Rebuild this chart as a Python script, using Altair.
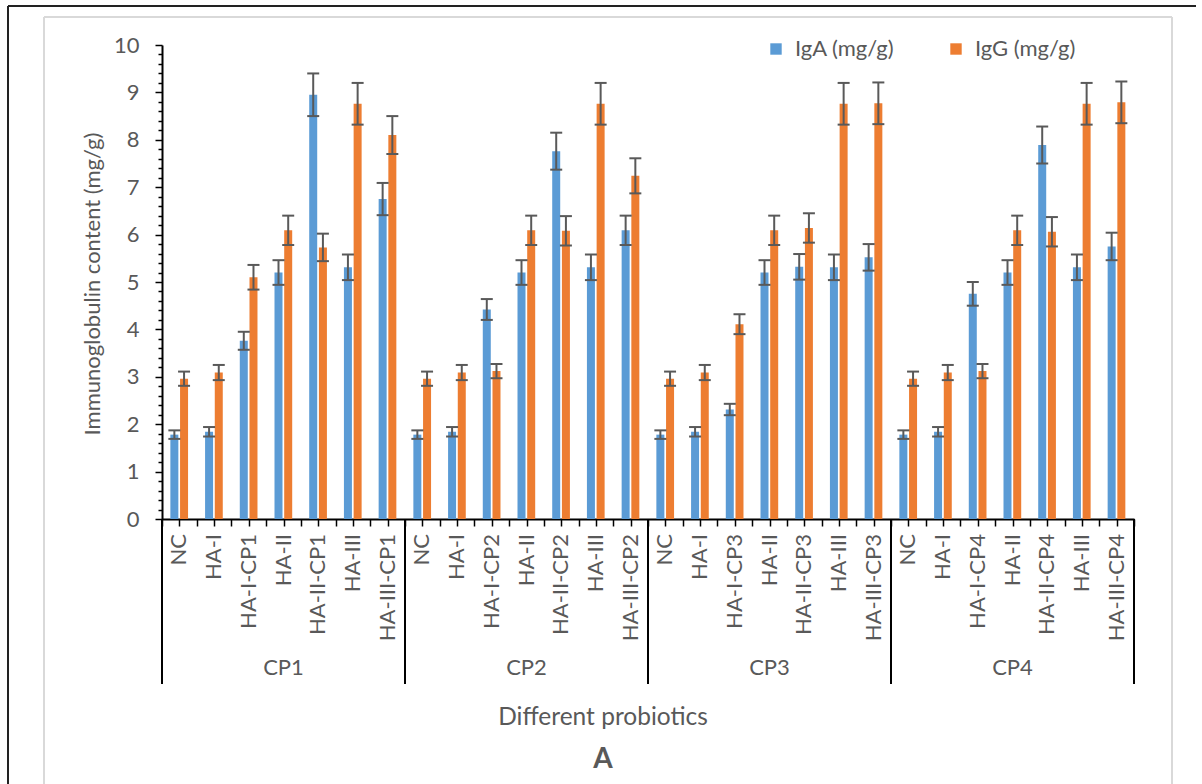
import altair as alt
import pandas as pd

groups = ["CP1", "CP2", "CP3", "CP4"]
treatments = ["NC", "HA-I", "HA-I-{g}", "HA-II", "HA-II-{g}", "HA-III", "HA-III-{g}"]

iga_cp1 = [1.78, 1.84, 3.76, 5.20, 8.95, 5.31, 6.75]
iga_cp2 = [1.78, 1.84, 4.42, 5.20, 7.76, 5.31, 6.09]
iga_cp3 = [1.78, 1.84, 2.31, 5.20, 5.32, 5.31, 5.52]
iga_cp4 = [1.78, 1.84, 4.75, 5.20, 7.89, 5.31, 5.75]

iga_err_cp1 = [0.09, 0.10, 0.19, 0.26, 0.45, 0.27, 0.34]
iga_err_cp2 = [0.09, 0.10, 0.22, 0.26, 0.39, 0.27, 0.31]
iga_err_cp3 = [0.09, 0.10, 0.12, 0.26, 0.27, 0.27, 0.28]
iga_err_cp4 = [0.09, 0.10, 0.25, 0.26, 0.39, 0.27, 0.29]

igg_cp1 = [2.96, 3.09, 5.10, 6.09, 5.73, 8.76, 8.10]
igg_cp2 = [2.96, 3.09, 3.12, 6.09, 6.08, 8.76, 7.24]
igg_cp3 = [2.96, 3.09, 4.11, 6.09, 6.14, 8.76, 8.77]
igg_cp4 = [2.96, 3.09, 3.12, 6.09, 6.06, 8.76, 8.79]

igg_err_cp1 = [0.15, 0.16, 0.26, 0.31, 0.29, 0.44, 0.40]
igg_err_cp2 = [0.15, 0.16, 0.15, 0.31, 0.31, 0.44, 0.37]
igg_err_cp3 = [0.15, 0.16, 0.21, 0.31, 0.31, 0.44, 0.44]
igg_err_cp4 = [0.15, 0.16, 0.15, 0.31, 0.31, 0.44, 0.44]

series_names = ["IgA (mg/g)", "IgG (mg/g)"]
series_colors = ["#5B9BD5", "#ED7D31"]

iga = [iga_cp1, iga_cp2, iga_cp3, iga_cp4]
iga_err = [iga_err_cp1, iga_err_cp2, iga_err_cp3, iga_err_cp4]
igg = [igg_cp1, igg_cp2, igg_cp3, igg_cp4]
igg_err = [igg_err_cp1, igg_err_cp2, igg_err_cp3, igg_err_cp4]

rows = []
cats = []
n_t = len(treatments)
for gi, g in enumerate(groups):
    for ti, t in enumerate(treatments):
        idx = gi * n_t + ti
        label = t.format(g=g)
        cats.append({"xc": idx + 0.5, "label": label})
        for s, vals, errs in ((series_names[0], iga, iga_err), (series_names[1], igg, igg_err)):
            v = vals[gi][ti]
            e = errs[gi][ti]
            rows.append({"xc": idx + 0.5, "label": label, "group": g,
                         "series": s, "value": v, "lo": v - e, "hi": v + e})
df = pd.DataFrame(rows)
cat_df = pd.DataFrame(cats)
n_cat = len(cats)
grp_df = pd.DataFrame({"xc": [gi * n_t + n_t / 2 for gi in range(len(groups))], "group": groups})
sep_df = pd.DataFrame({"xs": [gi * n_t for gi in range(len(groups) + 1)]})

W, H = 972, 474
FONT = "Lato"
TXT = "#595959"
FS = 22

xscale = alt.Scale(domain=[0, n_cat], nice=False, zero=False, padding=0)
yscale = alt.Scale(domain=[0, 10], nice=False, padding=0)

yticks = [round(i * 0.2, 1) for i in range(51)]
xticks = [i * 0.5 for i in range(2 * n_cat + 1)]

x_axis = alt.Axis(values=xticks, labels=False, title=None, grid=False,
                  domainColor="black", domainWidth=2, tickColor="black",
                  tickWidth=1.5, tickSize=7)
y_axis = alt.Axis(values=yticks, title=None, grid=False, labelOverlap=False,
                  labelExpr="abs(datum.value - round(datum.value)) < 0.001 ? toString(round(datum.value)) : ''",
                  tickSize={"condition": {"test": "abs(datum.value - round(datum.value)) < 0.001", "value": 7}, "value": 4},
                  domainColor="black", domainWidth=2, tickColor="black", tickWidth=1.5,
                  labelColor=TXT, labelFont=FONT, labelFontSize=FS, labelPadding=16)


def X(field):
    return alt.X(field, scale=xscale, axis=x_axis)


def Y(field):
    return alt.Y(field, scale=yscale, axis=y_axis)


color_enc = alt.Color("series:N", scale=alt.Scale(domain=series_names, range=series_colors),
                      legend=alt.Legend(title=None, orient="none", legendX=603, legendY=-7,
                                        direction="horizontal", symbolType="square",
                                        symbolSize=130, symbolStrokeWidth=0, labelFont=FONT,
                                        labelFontSize=FS, labelColor=TXT, columnPadding=50,
                                        labelOffset=8))

offsets = {series_names[0]: -5, series_names[1]: 4.7}

layers = []
for s in series_names:
    base = alt.Chart(df).transform_filter(alt.datum.series == s)
    layers.append(base.mark_bar(width=8, xOffset=offsets[s]).encode(
        x=X("xc:Q"), y=Y("value:Q"), color=color_enc))
for s in series_names:
    base = alt.Chart(df).transform_filter(alt.datum.series == s)
    layers.append(base.mark_rule(xOffset=offsets[s], color="#595959", strokeWidth=2).encode(
        x=X("xc:Q"), y=Y("lo:Q"), y2="hi:Q"))
    layers.append(base.mark_tick(orient="horizontal", size=12, thickness=2, xOffset=offsets[s],
                                 color="#595959", opacity=1).encode(x=X("xc:Q"), y=Y("hi:Q")))
    layers.append(base.mark_tick(orient="horizontal", size=12, thickness=2, xOffset=offsets[s],
                                 color="#595959", opacity=1).encode(x=X("xc:Q"), y=Y("lo:Q")))

cat_text = alt.Chart(cat_df).mark_text(angle=270, align="right", baseline="middle",
                                       font=FONT, fontSize=FS, color=TXT).encode(
    x=X("xc:Q"), y=alt.value(H + 15), text="label:N")
seps = alt.Chart(sep_df).mark_rule(color="black", strokeWidth=2).encode(
    x=X("xs:Q"), y=alt.value(H), y2=alt.value(H + 165))
grp_text = alt.Chart(grp_df).mark_text(font=FONT, fontSize=FS, color=TXT, baseline="middle").encode(
    x=X("xc:Q"), y=alt.value(H + 149), text="group:N")

xtitle = alt.Chart(pd.DataFrame({"t": ["Different probiotics"]})).mark_text(
    font=FONT, fontSize=24.5, color=TXT, baseline="middle").encode(
    x=alt.value(W / 2 - 45), y=alt.value(H + 199), text="t:N")
panel = alt.Chart(pd.DataFrame({"t": ["A"]})).mark_text(
    font=FONT, fontSize=28, fontWeight="bold", color=TXT, baseline="middle").encode(
    x=alt.value(W / 2 - 45), y=alt.value(H + 241), text="t:N")
ytitle = alt.Chart(pd.DataFrame({"t": ["Immunoglobulin content (mg/g)"]})).mark_text(
    font=FONT, fontSize=22, color=TXT, angle=270, baseline="middle").encode(
    x=alt.value(-69), y=alt.value(239), text="t:N")

frame_gray_l = alt.Chart().mark_rule(color="#d9d9d9", strokeWidth=2).encode(
    x=alt.value(-118), y=alt.value(-28), y2=alt.value(H + 270))
frame_gray_t = alt.Chart().mark_rule(color="#d9d9d9", strokeWidth=2).encode(
    x=alt.value(-118), x2=alt.value(1010), y=alt.value(-28))
frame_gray_r = alt.Chart().mark_rule(color="#d9d9d9", strokeWidth=2).encode(
    x=alt.value(1010), y=alt.value(-28), y2=alt.value(H + 270))
frame_dark_l = alt.Chart().mark_rule(color="#222222", strokeWidth=2).encode(
    x=alt.value(-154), y=alt.value(-39), y2=alt.value(H + 270))
frame_dark_t = alt.Chart().mark_rule(color="#222222", strokeWidth=2).encode(
    x=alt.value(-154), x2=alt.value(1034), y=alt.value(-39))

chart = alt.layer(
    frame_gray_l, frame_gray_t, frame_gray_r, frame_dark_l, frame_dark_t,
    *layers, seps, cat_text, grp_text, xtitle, panel, ytitle
).properties(
    width=W, height=H,
    autosize=alt.AutoSizeParams(type="none"),
    padding={"left": 162, "top": 45, "right": 68, "bottom": 265},
    background="white",
).configure_view(stroke=None)

chart.save("out.html", embed_options={"renderer": "svg", "actions": False})
